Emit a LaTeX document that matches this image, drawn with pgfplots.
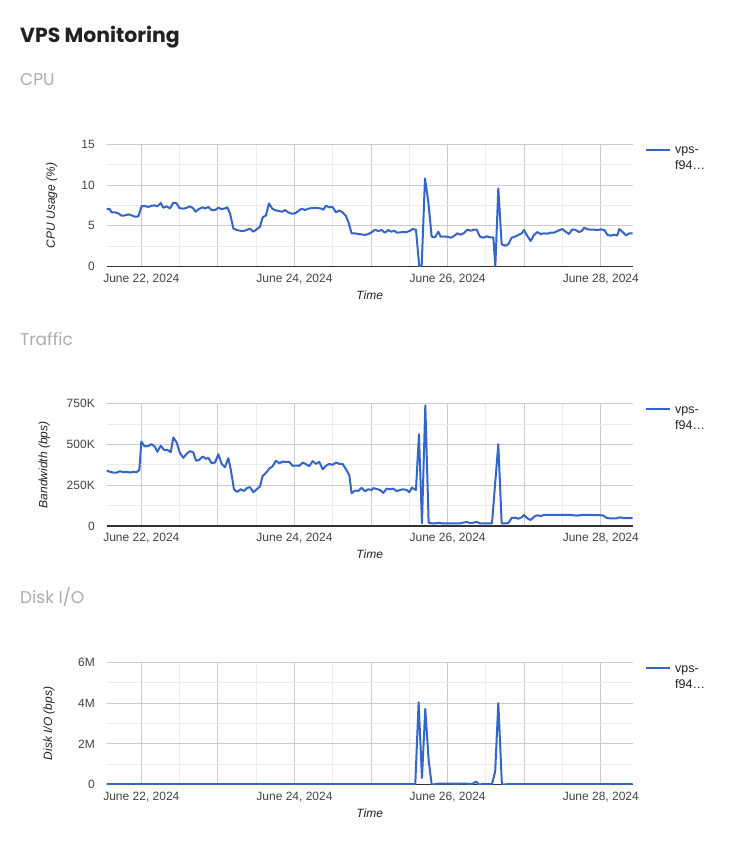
\documentclass[border=0pt]{standalone}
\usepackage{fontspec}
\setmainfont{Liberation Sans}
\newfontfamily\titlefont{Poppins}
\usepackage{pgfplots}
\pgfplotsset{compat=1.18}

\definecolor{lineblue}{HTML}{3366CC}
\definecolor{gridmaj}{HTML}{CCCCCC}
\definecolor{gridmin}{HTML}{EBEBEB}
\definecolor{baseline}{HTML}{333333}
\definecolor{ticktext}{HTML}{444444}
\definecolor{titletext}{HTML}{222222}
\definecolor{subtext}{HTML}{ADADAD}

% x is hours since June 22, 2024 00:00
\pgfplotsset{
  vps/.style={
    scale only axis, width=526pt, height=122.3pt,
    xmin=-10.86, xmax=154,
    xtick={0,24,...,144},
    xticklabels={{June 22, 2024},{},{June 24, 2024},{},{June 26, 2024},{},{June 28, 2024}},
    minor xtick={12,36,...,132},
    grid=both,
    major grid style={draw=gridmaj, line width=0.9pt},
    minor grid style={draw=gridmin, line width=0.9pt},
    axis line style={draw=none},
    major tick length=0pt, minor tick length=0pt,
    tick label style={font=\fontsize{12}{14}\selectfont, text=ticktext},
    xticklabel style={anchor=base, yshift=-16pt},
    yticklabel style={xshift=-8.4pt},
    xlabel={Time},
    xlabel style={font=\fontsize{12}{14}\selectfont\itshape, text=titletext,
      at={(axis description cs:0.5,0)}, anchor=base, yshift=-32.6pt},
    ylabel style={font=\fontsize{12}{14}\selectfont\itshape, text=titletext, anchor=center},
    extra y ticks={0}, extra y tick labels={},
    extra y tick style={grid=major, major grid style={draw=baseline, line width=1.1pt}},
    legend cell align=left,
    legend style={at={(axis description cs:1,1)}, anchor=north west,
      xshift=12.3pt, yshift=1.6pt, draw=none, fill=none, inner sep=0pt,
      row sep=0pt, column sep=2pt, font=\fontsize{12.5}{15}\selectfont, text=titletext,
      nodes={inner sep=2pt, text height=9pt, text depth=3pt}},
    legend image code/.code={\draw[#1] (0pt,1pt) -- (24pt,1pt);},
  },
  vline/.style={color=lineblue, line width=2pt, line join=round},
}

\begin{document}
\begin{tikzpicture}[x=1pt,y=1pt]
\path[fill=white, use as bounding box] (0,0) rectangle (735,868);

\node[anchor=base west, inner sep=0, text=titletext, font=\titlefont\bfseries\fontsize{20.4}{24}\selectfont] at (20,825.7) {VPS Monitoring};
\node[anchor=base west, inner sep=0, text=subtext, font=\titlefont\fontsize{17}{20}\selectfont] at (20,782) {CPU};
\node[anchor=base west, inner sep=0, text=subtext, font=\titlefont\fontsize{17}{20}\selectfont] at (20,522.3) {Traffic};
\node[anchor=base west, inner sep=0, text=subtext, font=\titlefont\fontsize{17}{20}\selectfont] at (20,264.5) {Disk I/O};

% ---------------- CPU
\begin{axis}[vps, at={(106.7pt,601.3pt)}, anchor=south west,
  ymin=0, ymax=15, ytick={0,5,10,15}, yticklabels={0,5,10,15},
  minor ytick={2.5,7.5,12.5},
  ylabel={CPU Usage (\%)}, ylabel style={at={(axis description cs:-0.1046,0.5)}}]
\addplot[vline] table {
x y
-10.86 7.03
-10.03 7.11
-9.30 6.66
-8.25 6.66
-7.21 6.54
-6.16 6.25
-5.12 6.29
-4.07 6.42
-3.03 6.29
-1.98 6.13
-0.94 6.17
0.10 7.44
1.15 7.44
2.19 7.32
3.24 7.48
4.28 7.52
5.01 7.40
6.06 7.81
6.89 7.23
7.94 7.40
8.98 7.15
10.03 7.85
11.07 7.77
11.91 7.19
13.16 7.11
14.20 7.23
15.25 7.40
16.29 7.15
17.02 6.74
17.86 7.03
19.11 7.28
19.95 7.15
20.99 7.32
22.04 6.95
23.08 6.95
24.13 7.23
25.17 7.07
26.21 7.15
26.95 7.28
27.78 6.54
28.83 4.70
29.87 4.50
30.91 4.41
31.96 4.37
33.00 4.50
34.05 4.66
35.09 4.29
36.14 4.58
37.18 4.90
38.02 6.05
39.06 6.29
40.00 7.77
41.04 7.11
42.09 6.91
43.13 6.83
44.18 6.74
45.01 6.95
46.06 6.66
47.10 6.50
48.15 6.54
49.19 6.83
50.24 7.11
51.28 6.95
52.32 7.11
53.37 7.19
54.41 7.23
55.46 7.19
56.50 7.11
57.02 6.99
57.86 7.48
58.90 7.28
59.95 7.32
60.99 6.66
62.04 6.91
63.08 6.66
64.13 6.21
64.86 5.52
65.90 4.09
66.95 4.09
67.99 4.01
69.03 3.96
70.08 3.88
71.12 4.01
72.17 4.21
73.21 4.54
74.26 4.37
75.30 4.50
76.35 4.17
77.39 4.50
78.43 4.29
79.17 4.41
80.21 4.17
81.05 4.21
82.10 4.25
83.15 4.25
84.19 4.41
85.03 4.62
86.07 4.54
87.12 0
87.85 0
88.90 10.83
89.94 7.97
90.99 3.68
92.03 3.60
93.08 4.29
93.81 3.68
94.85 3.68
95.90 3.68
96.94 3.56
97.99 3.76
99.03 4.09
100.08 3.92
101.12 4.13
102.17 4.54
103.21 4.41
104.26 4.54
105.09 4.54
106.14 3.68
107.18 3.56
108.23 3.72
109.27 3.60
110.32 3.60
110.94 0
111.88 9.60
112.93 2.74
113.97 2.58
115.02 2.74
116.06 3.56
117.11 3.68
118.15 3.88
119.20 4.09
119.93 4.50
120.97 3.76
122.02 3.15
123.06 3.88
124.11 4.25
125.15 4.01
126.20 4.09
127.24 4.05
128.29 4.17
129.33 4.17
130.38 4.37
131.94 4.62
132.99 4.29
134.03 4.01
135.08 4.58
136.12 4.50
137.17 4.25
138.00 4.37
138.84 4.78
139.88 4.58
140.93 4.54
141.97 4.54
143.02 4.50
144.06 4.58
145.11 4.50
146.05 3.92
147.09 3.80
148.14 3.92
149.18 3.84
149.81 4.62
150.85 4.25
151.90 3.84
152.94 4.09
153.99 4.09
};
\addlegendentry{vps-}
\addlegendimage{empty legend}
\addlegendentry{f94…}
\end{axis}

% ---------------- Traffic (values in K bps)
\begin{axis}[vps, at={(106.7pt,342pt)}, anchor=south west,
  ymin=0, ymax=750, ytick={0,250,500,750}, yticklabels={0,250K,500K,750K},
  minor ytick={125,375,625},
  ylabel={Bandwidth (bps)}, ylabel style={at={(axis description cs:-0.1188,0.5)}}]
\addplot[vline] table {
x y
-10.86 340
-9.82 332
-8.77 328
-7.73 328
-6.68 336
-5.64 330
-4.60 332
-3.55 328
-2.51 332
-1.46 330
-0.63 344
0.00 518
1.04 488
2.09 490
3.13 502
4.18 488
5.01 455
6.06 492
7.10 467
8.15 467
9.19 453
10.03 543
11.07 512
12.12 447
13.16 418
14.20 443
15.25 459
16.29 451
17.13 400
18.17 406
19.22 426
20.26 412
20.99 418
22.04 385
23.08 389
24.13 440
25.17 381
26.21 361
27.26 416
28.09 340
29.03 225
30.08 209
31.12 225
32.17 215
33.21 234
34.05 238
35.09 207
36.14 225
37.18 242
38.02 307
39.06 326
40.10 352
41.15 367
42.19 400
43.24 385
44.28 395
45.33 393
46.37 393
47.42 369
48.46 371
49.51 369
50.55 389
51.59 379
52.64 367
53.68 398
54.73 381
55.77 393
56.82 348
57.86 369
58.90 381
59.95 375
60.99 389
62.04 381
63.08 381
64.13 348
65.17 313
65.90 201
66.95 217
67.99 215
69.03 234
70.08 213
71.12 225
72.17 221
72.70 232
73.74 227
74.79 221
75.83 203
76.88 229
77.92 225
78.97 229
80.01 213
81.06 221
82.10 225
83.15 221
83.98 207
84.82 236
85.45 227
86.07 221
87.01 563
87.95 16
89.00 740
90.04 20
91.09 16
92.13 16
93.18 20
94.22 16
95.68 16
97.77 16
99.86 16
101.95 25
103.00 18
104.04 20
105.09 25
106.14 16
108.23 16
109.89 16
111.88 502
112.93 16
113.97 16
115.02 18
116.06 49
117.11 51
118.15 45
119.20 53
119.93 68
120.97 47
122.02 37
123.06 57
124.11 66
125.15 61
126.20 68
128.08 68
130.17 68
132.26 68
134.35 68
136.44 64
138.52 68
140.61 68
143.75 66
144.79 64
145.84 49
146.88 47
148.97 47
150.02 53
151.06 49
153.99 49
};
\addlegendentry{vps-}
\addlegendimage{empty legend}
\addlegendentry{f94…}
\end{axis}

% ---------------- Disk I/O (values in M bps)
\begin{axis}[vps, at={(106.7pt,83.3pt)}, anchor=south west,
  ymin=0, ymax=6, ytick={0,2,4,6}, yticklabels={0,2M,4M,6M},
  minor ytick={1,3,5},
  ylabel={Disk I/O (bps)}, ylabel style={at={(axis description cs:-0.1097,0.5)}}]
\addplot[vline] table {
x y
-10.86 0.03
-6 0.03
0 0.03
6 0.03
12 0.03
18 0.03
24 0.03
30 0.03
36 0.03
42 0.03
48 0.03
54 0.03
60 0.03
66 0.03
72 0.03
78 0.03
85.86 0.03
86.90 4.04
87.95 0.33
88.99 3.72
90.04 1.22
91.00 0.00
93.08 0.05
101.95 0.05
103.60 0.03
104.90 0.15
105.70 0.02
109.90 0.03
110.90 0.65
111.88 4.00
113.00 0.02
120 0.03
126 0.03
132 0.03
138 0.03
144 0.03
150 0.03
154 0.03
};
\addlegendentry{vps-}
\addlegendimage{empty legend}
\addlegendentry{f94…}
\end{axis}
\end{tikzpicture}
\end{document}
